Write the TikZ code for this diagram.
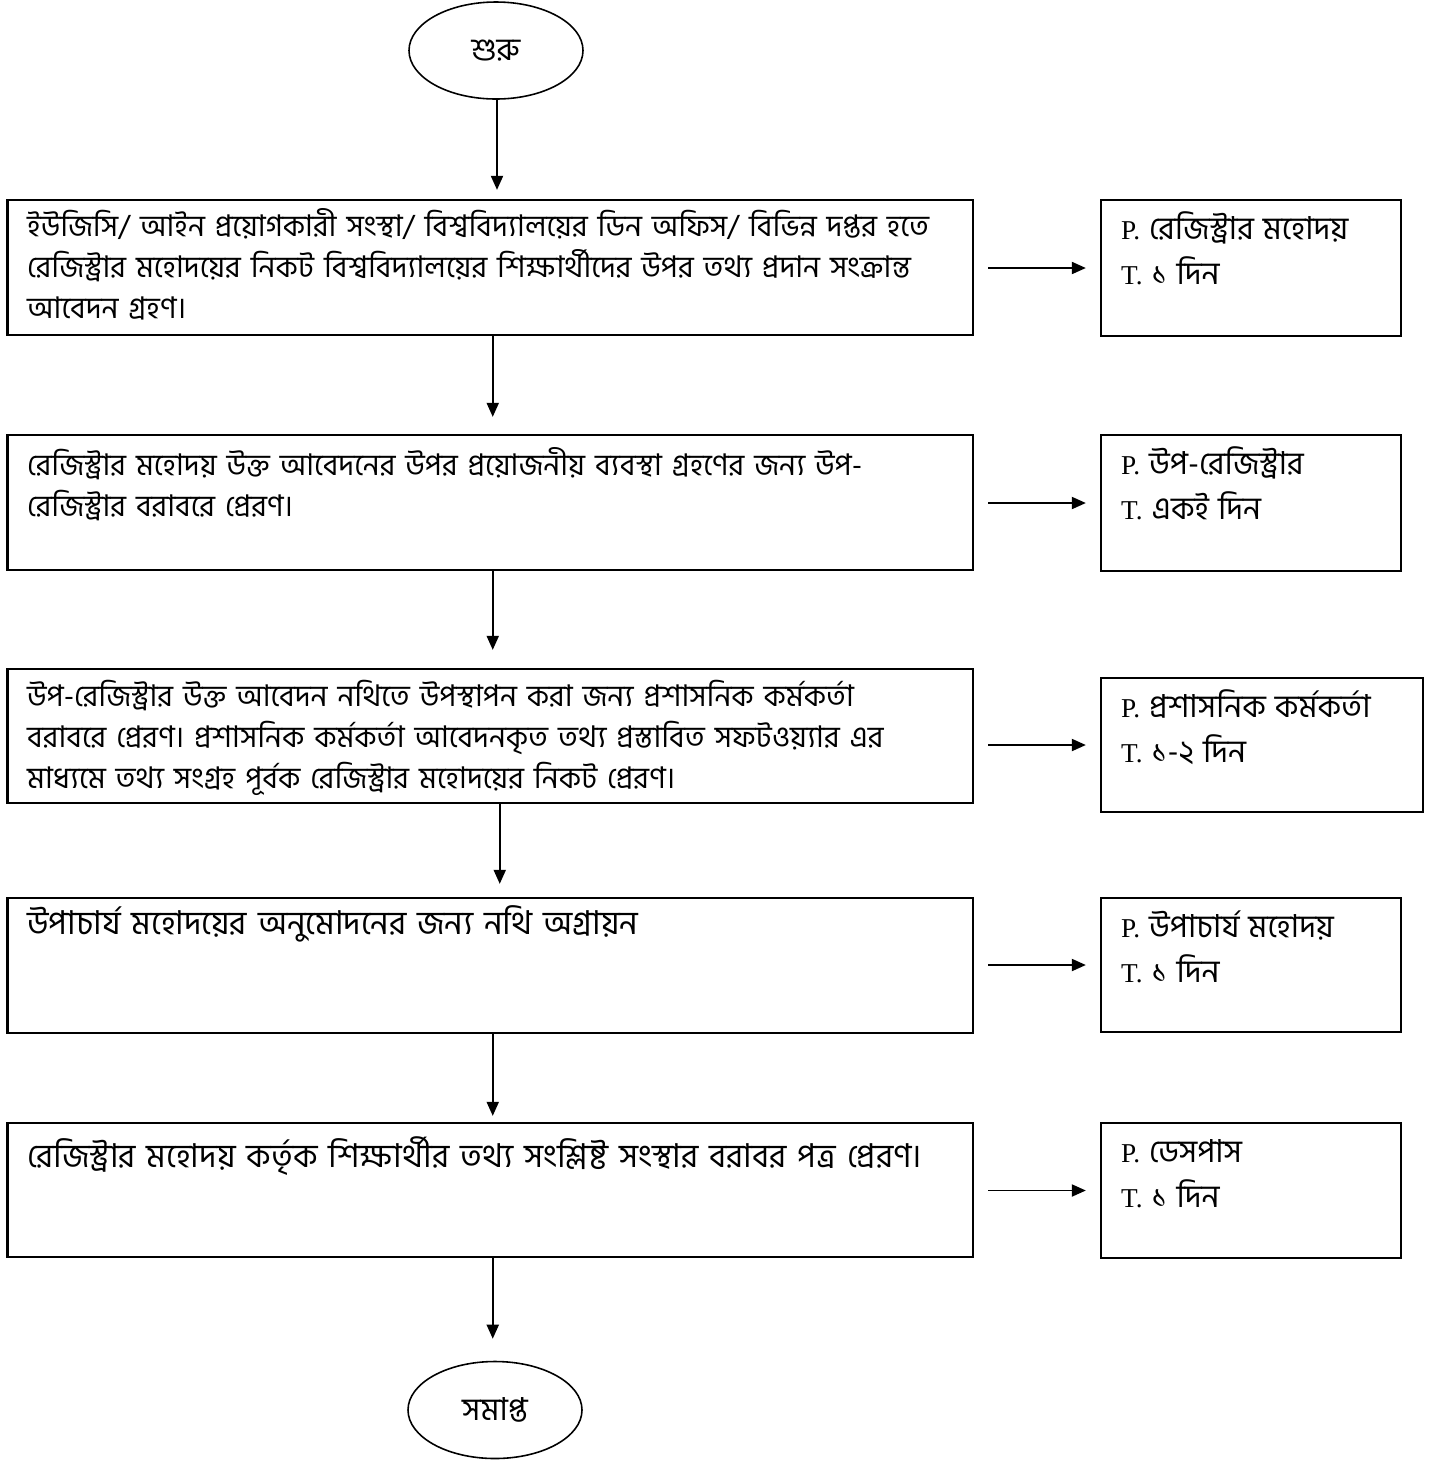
\documentclass[tikz,border=0pt]{standalone}
\usepackage{fontspec}
\setmainfont{Liberation Serif}
\newfontfamily\bnfont[Script=Bengali]{Hind Siliguri}
\newcommand{\bnside}[1]{{\bnfont\fontsize{18}{25.5}\selectfont #1}}
\usetikzlibrary{shapes.geometric, arrows.meta, positioning}

\tikzset{
  basebox/.style={rectangle, draw=black, line width=1.3pt},
  stepbox/.style={basebox, minimum width=19.31cm, minimum height=2.7cm},
  infobox/.style={basebox, minimum width=6cm, minimum height=2.7cm},
  termbox/.style={ellipse, draw=black, line width=0.9pt, minimum width=3.48cm, minimum height=1.94cm, inner sep=0pt, font=\bnfont\fontsize{18}{20}\selectfont},
  steptext/.style={anchor=base west, align=left, inner sep=0pt, text width=18.8cm, font=\bnfont\fontsize{17}{23.2}\selectfont},
  bigsteptext/.style={steptext, font=\bnfont\fontsize{18.7}{24}\selectfont},
  infotext/.style={anchor=base west, align=left, inner sep=0pt, text width=5.8cm, font=\fontsize{15.5}{25.5}\selectfont},
  flowarrow/.style={-{Triangle[length=0.28cm, width=0.24cm]}, line width=1.1pt},
  sidearrow/.style={flowarrow, shorten <=0.28cm, shorten >=0.28cm}
}

\begin{document}
\begin{tikzpicture}
  \useasboundingbox (0,0) rectangle (28.96,-29.4);

  % start and end
  \node[termbox] (start) at (9.92,-1.01) {শুরু};
  \node[termbox] (stop) at (9.9,-28.2) {সমাপ্ত};

  % steps
  \node[stepbox] (s1) at (9.805,-5.35) {};
  \node[stepbox] (s2) at (9.805,-10.05) {};
  \node[stepbox, minimum height=2.68cm] (s3) at (9.805,-14.72) {};
  \node[stepbox] (s4) at (9.805,-19.31) {};
  \node[stepbox, minimum height=2.68cm] (s5) at (9.805,-23.8) {};

  \node[steptext] (t1) at ([shift={(0.41,-0.76)}]s1.north west) {ইউজিসি/ আইন প্রয়োগকারী সংস্থা/ বিশ্ববিদ্যালয়ের ডিন অফিস/ বিভিন্ন দপ্তর হতে\\রেজিস্ট্রার মহোদয়ের নিকট বিশ্ববিদ্যালয়ের শিক্ষার্থীদের উপর তথ্য প্রদান সংক্রান্ত\\আবেদন গ্রহণ।};
  \node[steptext] (t2) at ([shift={(0.41,-0.84)}]s2.north west) {রেজিস্ট্রার মহোদয় উক্ত আবেদনের উপর প্রয়োজনীয় ব্যবস্থা গ্রহণের জন্য উপ-\\রেজিস্ট্রার বরাবরে প্রেরণ।};
  \node[steptext] (t3) at ([shift={(0.41,-0.78)}]s3.north west) {উপ-রেজিস্ট্রার উক্ত আবেদন নথিতে উপস্থাপন করা জন্য প্রশাসনিক কর্মকর্তা\\বরাবরে প্রেরণ। প্রশাসনিক কর্মকর্তা আবেদনকৃত তথ্য প্রস্তাবিত সফটওয়্যার এর\\মাধ্যমে তথ্য সংগ্রহ পূর্বক রেজিস্ট্রার মহোদয়ের নিকট প্রেরণ।};
  \node[bigsteptext] (t4) at ([shift={(0.41,-0.76)}]s4.north west) {উপাচার্য মহোদয়ের অনুমোদনের জন্য নথি অগ্রায়ন};
  \node[bigsteptext] (t5) at ([shift={(0.41,-0.92)}]s5.north west) {রেজিস্ট্রার মহোদয় কর্তৃক শিক্ষার্থীর তথ্য সংশ্লিষ্ট সংস্থার বরাবর পত্র প্রেরণ।};

  % person / time
  \node[infobox, minimum height=2.72cm] (i1) at (25.02,-5.36) {};
  \node[infobox, minimum height=2.72cm] (i2) at (25.02,-10.06) {};
  \node[infobox, minimum width=6.44cm, minimum height=2.68cm] (i3) at (25.24,-14.9) {};
  \node[infobox, minimum height=2.68cm] (i4) at (25.02,-19.3) {};
  \node[infobox] (i5) at (25.02,-23.81) {};

  \node[infotext] (p1) at ([shift={(0.42,-0.82)}]i1.north west) {P. \bnside{রেজিস্ট্রার মহোদয়}\\T. \bnside{১ দিন}};
  \node[infotext] (p2) at ([shift={(0.42,-0.82)}]i2.north west) {P. \bnside{উপ-রেজিস্ট্রার}\\T. \bnside{একই দিন}};
  \node[infotext] (p3) at ([shift={(0.42,-0.82)}]i3.north west) {P. \bnside{প্রশাসনিক কর্মকর্তা}\\T. \bnside{১-২ দিন}};
  \node[infotext] (p4) at ([shift={(0.42,-0.82)}]i4.north west) {P. \bnside{উপাচার্য মহোদয়}\\T. \bnside{১ দিন}};
  \node[infotext] (p5) at ([shift={(0.42,-0.82)}]i5.north west) {P. \bnside{ডেসপাস}\\T. \bnside{১ দিন}};

  % down arrows
  \draw[flowarrow, shorten >=0.18cm] ([xshift=0.02cm]start.south) -- ([xshift=0.02cm]start.south |- s1.north);
  \draw[flowarrow, shorten >=0.34cm] ([xshift=0.05cm]s1.south) -- ([xshift=0.05cm]s2.north);
  \draw[flowarrow, shorten >=0.36cm] ([xshift=0.05cm]s2.south) -- ([xshift=0.05cm]s3.north);
  \draw[flowarrow, shorten >=0.26cm] ([xshift=0.19cm]s3.south) -- ([xshift=0.19cm]s4.north);
  \draw[flowarrow, shorten >=0.12cm] ([xshift=0.05cm]s4.south) -- ([xshift=0.05cm]s5.north);
  \draw[flowarrow, shorten >=0.44cm] ([xshift=0.05cm]s5.south) -- ([xshift=0.05cm]s5.south |- stop.north);

  % side arrows
  \foreach \k in {1,...,5}
    \draw[sidearrow] (s\k.east |- i\k.west) -- (i\k.west);
\end{tikzpicture}
\end{document}
